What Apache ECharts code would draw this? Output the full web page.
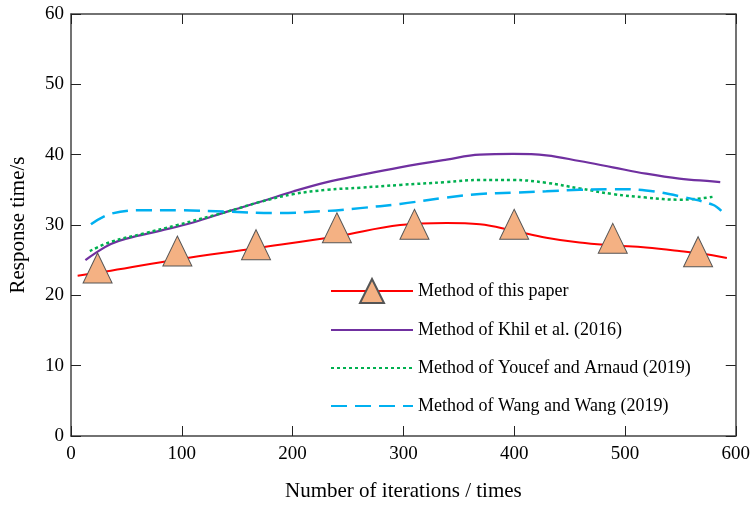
<!DOCTYPE html>
<html>
<head>
<meta charset="utf-8">
<script src="https://cdn.jsdelivr.net/npm/echarts@6/dist/echarts.min.js"></script>
<style>
html,body{margin:0;padding:0;background:#fff;}
#chart{width:753px;height:507px;}
</style>
</head>
<body>
<div id="chart"></div>
<script>
// ---- data ----
const xTicks = [0, 100, 200, 300, 400, 500, 600];
const yTicks = [0, 10, 20, 30, 40, 50, 60];

const seriesNames = [
  'Method of this paper',
  'Method of Khil et al. (2016)',
  'Method of Youcef and Arnaud (2019)',
  'Method of Wang and Wang (2019)'
];

// Method of this paper: smooth curve
const paperX = [6, 36, 96, 167, 240, 297, 339, 369, 399, 429, 459, 489, 519, 549, 579, 592];
const paperY = [22.8, 23.5, 25.1, 26.7, 28.4, 30.0, 30.3, 30.1, 29.2, 28.2, 27.5, 27.1, 26.8, 26.3, 25.7, 25.3];
// Method of this paper: triangle markers
const markerX = [24, 96, 167, 240, 310, 400, 489, 566];
const markerY = [23.9, 26.3, 27.2, 29.6, 30.1, 30.1, 28.1, 26.2];

// Khil et al. (2016)
const khilX = [13, 21, 36, 51, 81, 111, 141, 171, 201, 231, 261, 297, 339, 369, 399, 429, 459, 489, 519, 549, 579, 586];
const khilY = [25.0, 25.9, 27.3, 28.1, 29.2, 30.4, 31.9, 33.3, 34.8, 36.1, 37.1, 38.2, 39.3, 40.0, 40.1, 39.9, 39.1, 38.2, 37.3, 36.6, 36.2, 36.1];

// Youcef and Arnaud (2019)
const youcefX = [17, 36, 66, 96, 141, 171, 201, 231, 261, 297, 339, 369, 399, 429, 459, 489, 519, 549, 564, 579];
const youcefY = [26.3, 27.6, 28.8, 30.0, 31.9, 33.3, 34.4, 35.0, 35.3, 35.7, 36.1, 36.4, 36.4, 36.0, 35.2, 34.4, 33.9, 33.6, 33.7, 34.0];

// Wang and Wang (2019)
const wangX = [18, 36, 66, 96, 141, 186, 231, 261, 297, 339, 369, 399, 429, 459, 489, 519, 549, 579, 587];
const wangY = [30.1, 31.6, 32.1, 32.1, 31.9, 31.7, 32.0, 32.4, 33.0, 33.9, 34.4, 34.6, 34.8, 35.0, 35.1, 34.9, 34.1, 32.9, 32.0];

function pairs(xs, ys) { return xs.map((x, i) => [x, ys[i]]); }

const FONT = '"Liberation Serif", "Times New Roman", serif';
const AXIS_COLOR = '#444';

const chart = echarts.init(document.getElementById('chart'), null, {renderer: 'canvas'});

const baseX = {
  type: 'value', min: xTicks[0], max: xTicks[xTicks.length - 1], interval: 100,
  splitLine: {show: false},
  axisLine: {show: true, onZero: false, lineStyle: {color: AXIS_COLOR, width: 1.5}},
  axisTick: {show: true, inside: true, length: 10, lineStyle: {color: '#222', width: 1}}
};
const baseY = {
  type: 'value', min: yTicks[0], max: yTicks[yTicks.length - 1], interval: 10,
  splitLine: {show: false},
  axisLine: {show: true, onZero: false, lineStyle: {color: AXIS_COLOR, width: 1.5}},
  axisTick: {show: true, inside: true, length: 10, lineStyle: {color: '#222', width: 1}}
};

const option = {
  animation: false,
  backgroundColor: '#ffffff',
  grid: {left: 70, right: 16, top: 14, bottom: 65, containLabel: false},
  legend: {
    left: 330, top: 278, orient: 'vertical', padding: 0,
    itemWidth: 82, itemHeight: 30, itemGap: 14,
    textStyle: {fontFamily: FONT, fontSize: 18, color: '#000'},
    data: [
      {name: seriesNames[0]},
      {name: seriesNames[1], itemStyle: {opacity: 0}},
      {name: seriesNames[2], itemStyle: {opacity: 0}},
      {name: seriesNames[3], itemStyle: {opacity: 0}}
    ]
  },
  xAxis: [
    Object.assign({}, baseX, {
      position: 'bottom',
      name: 'Number of iterations / times', nameLocation: 'middle', nameGap: 45,
      nameTextStyle: {fontFamily: FONT, fontSize: 21, color: '#000'},
      axisLabel: {show: true, margin: 9, fontFamily: FONT, fontSize: 19, color: '#000'}
    }),
    Object.assign({}, baseX, {position: 'top', axisLabel: {show: false}})
  ],
  yAxis: [
    Object.assign({}, baseY, {
      position: 'left',
      name: 'Response time/s', nameLocation: 'middle', nameGap: 42,
      nameTextStyle: {fontFamily: FONT, fontSize: 21, color: '#000'},
      axisLabel: {show: true, margin: 7, fontFamily: FONT, fontSize: 19, color: '#000'}
    }),
    Object.assign({}, baseY, {position: 'right', axisLabel: {show: false}})
  ],
  series: [
    {
      name: seriesNames[0], type: 'line', smooth: 0.4,
      data: pairs(paperX, paperY),
      showSymbol: false, symbol: 'triangle',
      lineStyle: {color: '#FF0000', width: 2},
      itemStyle: {color: '#F4B183', borderColor: '#555', borderWidth: 1},
      z: 3
    },
    {
      name: seriesNames[1], type: 'line', smooth: 0.4,
      data: pairs(khilX, khilY), symbol: 'none',
      lineStyle: {color: '#7030A0', width: 2.2},
      itemStyle: {color: '#7030A0'}, z: 2
    },
    {
      name: seriesNames[2], type: 'line', smooth: 0.4,
      data: pairs(youcefX, youcefY), symbol: 'none',
      lineStyle: {color: '#00B050', width: 2.5, type: [3, 3]},
      itemStyle: {color: '#00B050'}, z: 2
    },
    {
      name: seriesNames[3], type: 'line', smooth: 0.4,
      data: pairs(wangX, wangY), symbol: 'none',
      lineStyle: {color: '#00B0F0', width: 2.5, type: [16, 8]},
      itemStyle: {color: '#00B0F0'}, z: 2
    },
    {
      name: seriesNames[0], type: 'scatter',
      data: pairs(markerX, markerY),
      symbol: 'triangle', symbolSize: [29, 30],
      itemStyle: {color: '#F4B183', borderColor: '#555', borderWidth: 1, opacity: 1},
      z: 4
    }
  ]
};
chart.setOption(option);
</script>
</body>
</html>
